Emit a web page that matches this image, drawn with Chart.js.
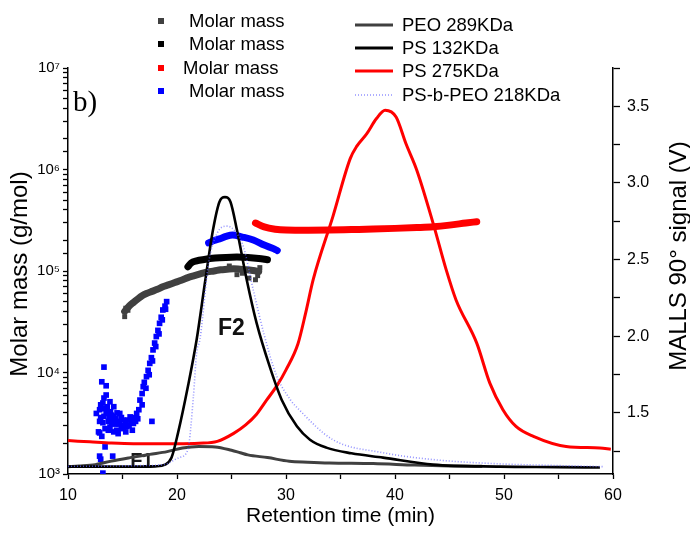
<!DOCTYPE html>
<html>
<head>
<meta charset="utf-8">
<script src="https://cdn.jsdelivr.net/npm/chart.js@4.4.1/dist/chart.umd.min.js"></script>
<style>
  body { margin: 0; background: #fff; }
  #grafico { display: block; }
</style>
</head>
<body>
<canvas id="grafico" width="690" height="533"></canvas>
<script>
// sinais MALLS (eixo direito, V)
const peoX = [10, 11, 12.5, 14, 15.7, 17.5, 19.1, 20.5, 22, 23.5, 25, 25.8, 26.5, 28.3, 30.3, 32, 34, 38, 41.8, 45, 48];
const peoY = [1.148, 1.152, 1.161, 1.185, 1.207, 1.228, 1.246, 1.27, 1.28, 1.277, 1.255, 1.239, 1.225, 1.207, 1.183, 1.177, 1.172, 1.168, 1.158, 1.152, 1.15];

const ps132X = [10, 14, 17, 18, 18.9, 19.5, 20.1, 21.0, 21.8, 22.6, 23.3, 23.9, 24.4, 24.9, 25.5, 26.4, 27.3, 28.5, 29.6, 31.0, 32.2, 33.7, 36, 38.9, 43.5, 49.6, 55, 58.8];
const ps132Y = [1.148, 1.148, 1.148, 1.15, 1.161, 1.207, 1.37, 1.671, 1.976, 2.366, 2.692, 2.877, 2.907, 2.877, 2.692, 2.366, 2.086, 1.802, 1.585, 1.411, 1.324, 1.272, 1.235, 1.207, 1.161, 1.148, 1.145, 1.142];

const ps275X = [10, 12, 14, 16, 18, 20, 22, 23.7, 25.2, 26.3, 27.3, 28.2, 29.2, 30.0, 31.1, 31.8, 32.5, 34.3, 35.9, 36.5, 37.4, 38.3, 39.1, 40.1, 41.0, 42.0, 43.5, 44.7, 45.6, 47.5, 48.7, 49.9, 51.1, 52.7, 55.7, 58.8, 59.8];
const ps275Y = [1.318, 1.31, 1.302, 1.298, 1.298, 1.298, 1.301, 1.313, 1.365, 1.42, 1.49, 1.58, 1.68, 1.78, 1.95, 2.15, 2.37, 2.78, 3.16, 3.24, 3.32, 3.42, 3.474, 3.43, 3.257, 3.083, 2.736, 2.432, 2.236, 1.954, 1.693, 1.52, 1.411, 1.346, 1.28, 1.27, 1.262];

const psPeoX = [10, 14, 17, 18.8, 20.2, 21.0, 21.5, 21.8, 22.1, 22.9, 23.7, 24.6, 25.4, 26.1, 27.0, 28.0, 29.1, 30.4, 31.2, 34.3, 38.9, 43.5, 49, 55, 59.2];
const psPeoY = [1.15, 1.152, 1.155, 1.161, 1.207, 1.26, 1.6, 1.89, 1.976, 2.477, 2.673, 2.718, 2.679, 2.581, 2.301, 2.008, 1.748, 1.585, 1.52, 1.324, 1.239, 1.194, 1.168, 1.155, 1.148];

// massa molar (eixo esquerdo, g/mol)
const mmPeoX = [15.2, 15.6, 16.0, 16.4, 16.8, 17.2, 17.7, 18.2, 18.7, 19.2, 19.8, 20.4, 21.0, 21.6, 22.2, 22.8, 23.4, 24.0, 24.6, 25.2, 25.8, 26.4, 27.0, 27.5];
const mmPeoY = [40000, 45000, 49000, 53000, 57000, 60000, 63000, 66000, 70000, 73000, 77000, 81000, 86000, 90000, 94000, 98000, 100000, 103000, 104000, 105000, 104000, 103000, 101000, 99000];
const mmPeoSoltosX = [15.2, 15.3, 15.5, 24.8, 25.5, 26.0, 26.6, 27.2, 27.4, 27.6];
const mmPeoSoltosY = [35500, 43000, 41000, 112000, 92000, 95000, 85000, 82000, 90000, 108000];

const mmPs132X = [21.0, 21.3, 21.8, 22.5, 23.5, 24.5, 25.5, 26.5, 27.5, 28.3];
const mmPs132Y = [110000, 120000, 126000, 130000, 134000, 136000, 137000, 136000, 133000, 129000];

const mmPs275X = [27.2, 28, 29, 30, 32, 34, 36, 38, 40, 42, 43.5, 45, 46.5, 47.5];
const mmPs275Y = [297000, 272000, 258000, 253000, 252000, 253000, 256000, 259000, 263000, 268000, 273000, 283000, 297000, 306000];

const mmPsPeoX = [12.6, 12.8, 12.9, 12.9, 12.9, 12.9, 13.0, 13.0, 13.0, 13.1, 13.1, 13.2, 13.2, 13.2, 13.3, 13.3, 13.3, 13.3, 13.4, 13.4, 13.5, 13.5, 13.5, 13.6, 13.6, 13.7, 13.7, 13.8, 13.85, 13.85, 13.9, 14.0, 14.0, 14.1, 14.15, 14.2, 14.2, 14.2, 14.3, 14.4, 14.45, 14.5, 14.6, 14.6, 14.7, 14.75, 14.9, 14.9, 15.05, 15.1, 15.2, 15.3, 15.3, 15.4, 15.5, 15.6, 15.7, 15.8, 15.9, 16.0, 16.1, 16.2, 16.3, 16.4, 16.5, 16.6, 16.8, 16.8, 16.9, 17.0, 17.15, 17.2, 17.35, 17.45, 17.5, 17.65, 17.7, 17.75, 17.8, 17.95, 18.05, 18.1, 18.25, 18.35, 18.4, 18.55, 18.65, 18.7, 18.9, 18.95, 19.05];
const mmPsPeoY = [3950, 2600, 4300, 2540, 1500, 3300, 3600, 1400, 4800, 8100, 2350, 5000, 1020, 3200, 11300, 4400, 3700, 5600, 1850, 2800, 7400, 3950, 6000, 4600, 4200, 3300, 2700, 3600, 5150, 2900, 4100, 3800, 3200, 1500, 3400, 4600, 3700, 2600, 3100, 3500, 2700, 4000, 3300, 2500, 3100, 3950, 2800, 3600, 3400, 2900, 3000, 2600, 3300, 2950, 3400, 3000, 3650, 3300, 2700, 3150, 3600, 3300, 3950, 3500, 4300, 5350, 6200, 4800, 7250, 8000, 7000, 9100, 10500, 9500, 12300, 14000, 3300, 13000, 16700, 19500, 18000, 22600, 26000, 24000, 30500, 35000, 33000, 41300, 45000, 42000, 49900];

const mmArcoX = [22.9, 23.4, 23.9, 24.5, 25.1, 26.0, 27.0, 28.0, 28.9, 29.2];
const mmArcoY = [189000, 200000, 207000, 219000, 226000, 216000, 202000, 180000, 165000, 159000];

// eixos
const xMin = 10, xMax = 60, xStep = 5;
const mmMin = 1e3, mmMax = 1e7;
const vMin = 1.1, vMax = 3.75, vStep = 0.25;

const legendaMassa = ["Molar mass", "Molar mass", "Molar mass", "Molar mass"];
const legendaSinal = ["PEO 289KDa", "PS 132KDa", "PS 275KDa", "PS-b-PEO 218KDa"];

const CINZA = "#404040", PRETO = "#000000", VERMELHO = "#ff0000", AZUL = "#0000ff", AZUL_CLARO = "rgba(100,100,255,0.7)";
const FONTE = '"Liberation Sans", Arial, sans-serif';

function pts(xs, ys) {
  return xs.map((x, i) => ({ x: x, y: ys[i] }));
}

const sup = { 3: "³", 4: "⁴", 5: "⁵", 6: "⁶", 7: "⁷" };

function linha(label, xs, ys, cor, largura, dash) {
  return {
    label: label,
    data: pts(xs, ys),
    yAxisID: "y1",
    showLine: true,
    borderColor: cor,
    backgroundColor: cor,
    borderWidth: largura,
    borderDash: dash || [],
    pointRadius: 0,
    cubicInterpolationMode: "monotone",
  };
}

function banda(label, xs, ys, cor, largura) {
  return {
    label: label,
    data: pts(xs, ys),
    yAxisID: "y",
    showLine: true,
    borderColor: cor,
    backgroundColor: cor,
    borderWidth: largura,
    borderCapStyle: "round",
    pointRadius: 0,
    cubicInterpolationMode: "monotone",
  };
}

function pontos(label, xs, ys, cor, raio) {
  return {
    label: label,
    data: pts(xs, ys),
    yAxisID: "y",
    backgroundColor: cor,
    borderColor: cor,
    pointStyle: "rect",
    pointRadius: raio,
    pointBorderWidth: 0,
  };
}

const extras = {
  id: "extras",
  beforeDatasetsDraw(chart) {
    const ctx = chart.ctx;
    const sx = chart.scales.x, sv = chart.scales.y1;
    ctx.save();
    ctx.fillStyle = "#1a1a1a";
    ctx.font = "bold 20px " + FONTE;
    ctx.textBaseline = "alphabetic";
    ctx.fillText("F1", sx.getPixelForValue(15.7), sv.getPixelForValue(1.148));
    ctx.fillStyle = "#111";
    ctx.font = "bold 23px " + FONTE;
    ctx.fillText("F2", sx.getPixelForValue(23.75), sv.getPixelForValue(2.008));
    ctx.restore();
  },
  afterDraw(chart) {
    const ctx = chart.ctx;
    const area = chart.chartArea;
    ctx.save();
    ctx.fillStyle = "#000";

    // b)
    ctx.font = '29px "Liberation Serif", "Times New Roman", serif';
    ctx.textBaseline = "alphabetic";
    ctx.textAlign = "left";
    ctx.fillText("b)", area.left + 5, area.top + 43);

    // legenda - coluna dos pontos
    const coresMassa = [CINZA, PRETO, VERMELHO, AZUL];
    const yMassa = [21, 44, 68, 91];
    ctx.font = "18.5px " + FONTE;
    ctx.textBaseline = "middle";
    for (let i = 0; i < legendaMassa.length; i++) {
      ctx.fillStyle = coresMassa[i];
      ctx.fillRect(158, yMassa[i] - 3, 6, 6);
      ctx.fillStyle = "#000";
      ctx.fillText(legendaMassa[i], i === 2 ? 183 : 189, yMassa[i] + 1);
    }

    // legenda - coluna das linhas
    const coresSinal = [CINZA, PRETO, VERMELHO, AZUL_CLARO];
    const yLinha = [25, 48, 71, 95];
    for (let i = 0; i < legendaSinal.length; i++) {
      ctx.beginPath();
      ctx.strokeStyle = coresSinal[i];
      ctx.lineWidth = i === 3 ? 1.6 : 3;
      ctx.setLineDash(i === 3 ? [1, 2] : []);
      ctx.moveTo(355, yLinha[i]);
      ctx.lineTo(393, yLinha[i]);
      ctx.stroke();
      ctx.setLineDash([]);
      ctx.fillStyle = "#000";
      ctx.fillText(legendaSinal[i], 402, yLinha[i] + 1);
    }

    // titulos dos eixos
    ctx.textAlign = "center";
    ctx.font = "21px " + FONTE;
    ctx.fillText("Retention time (min)", (area.left + area.right) / 2, 516);

    ctx.font = "24px " + FONTE;
    ctx.translate(20, 274);
    ctx.rotate(-Math.PI / 2);
    ctx.fillText("Molar mass (g/mol)", 0, 0);
    ctx.rotate(Math.PI / 2);
    ctx.translate(-20, -274);

    ctx.translate(679, 256);
    ctx.rotate(-Math.PI / 2);
    ctx.fillText("MALLS 90° signal (V)", 0, 0);
    ctx.restore();
  },
};

Chart.defaults.font.family = FONTE;
Chart.defaults.color = "#000";

new Chart(document.getElementById("grafico"), {
  type: "scatter",
  data: {
    datasets: [
      linha(legendaSinal[3], psPeoX, psPeoY, AZUL_CLARO, 1.6, [1, 2]),
      linha(legendaSinal[1], ps132X, ps132Y, PRETO, 2.6),
      linha(legendaSinal[2], ps275X, ps275Y, VERMELHO, 3),
      linha(legendaSinal[0], peoX, peoY, CINZA, 3),
      banda(legendaMassa[1], mmPs132X, mmPs132Y, PRETO, 7),
      banda(legendaMassa[3], mmArcoX, mmArcoY, AZUL, 7),
      banda(legendaMassa[2], mmPs275X, mmPs275Y, VERMELHO, 7),
      banda(legendaMassa[0], mmPeoX, mmPeoY, CINZA, 7),
      pontos(legendaMassa[0], mmPeoSoltosX, mmPeoSoltosY, CINZA, 3.5),
      pontos(legendaMassa[3], mmPsPeoX, mmPsPeoY, AZUL, 4),
    ],
  },
  options: {
    responsive: false,
    animation: false,
    layout: { padding: { top: 68, left: 0, right: 0, bottom: 0 } },
    plugins: {
      legend: { display: false },
      tooltip: { enabled: false },
    },
    scales: {
      x: {
        type: "linear",
        min: xMin,
        max: xMax,
        border: { display: true, color: "#000", width: 1.5 },
        grid: { drawOnChartArea: false, drawTicks: true, tickLength: 5, tickColor: "#000", tickWidth: 1.3 },
        ticks: {
          stepSize: xStep,
          autoSkip: false,
          maxRotation: 0,
          padding: 7,
          font: { size: 16 },
          callback: (v) => (v % 10 === 0 ? v : ""),
        },
        afterFit: (s) => { s.height = 59; },
      },
      y: {
        type: "logarithmic",
        position: "left",
        min: mmMin,
        max: mmMax,
        border: { display: true, color: "#000", width: 1.5 },
        grid: { drawOnChartArea: false, drawTicks: true, tickLength: 5, tickColor: "#000", tickWidth: 1.3 },
        ticks: {
          autoSkip: false,
          padding: 3,
          font: { size: 15 },
          callback: (v) => {
            const e = Math.log10(v);
            return Math.abs(e - Math.round(e)) < 1e-9 ? "10" + sup[Math.round(e)] : "";
          },
        },
        afterFit: (s) => { s.width = 68; },
      },
      y1: {
        type: "linear",
        position: "right",
        min: vMin,
        max: vMax,
        border: { display: true, color: "#000", width: 1.5 },
        grid: { drawOnChartArea: false, drawTicks: true, tickLength: 7, tickColor: "#000", tickWidth: 1.3 },
        ticks: {
          stepSize: vStep,
          includeBounds: false,
          autoSkip: false,
          padding: 7,
          font: { size: 16 },
          callback: (v) => (Math.abs(v * 2 - Math.round(v * 2)) < 1e-9 ? v.toFixed(1) : ""),
        },
        afterFit: (s) => { s.width = 77; },
      },
    },
  },
  plugins: [extras],
});
</script>
</body>
</html>
